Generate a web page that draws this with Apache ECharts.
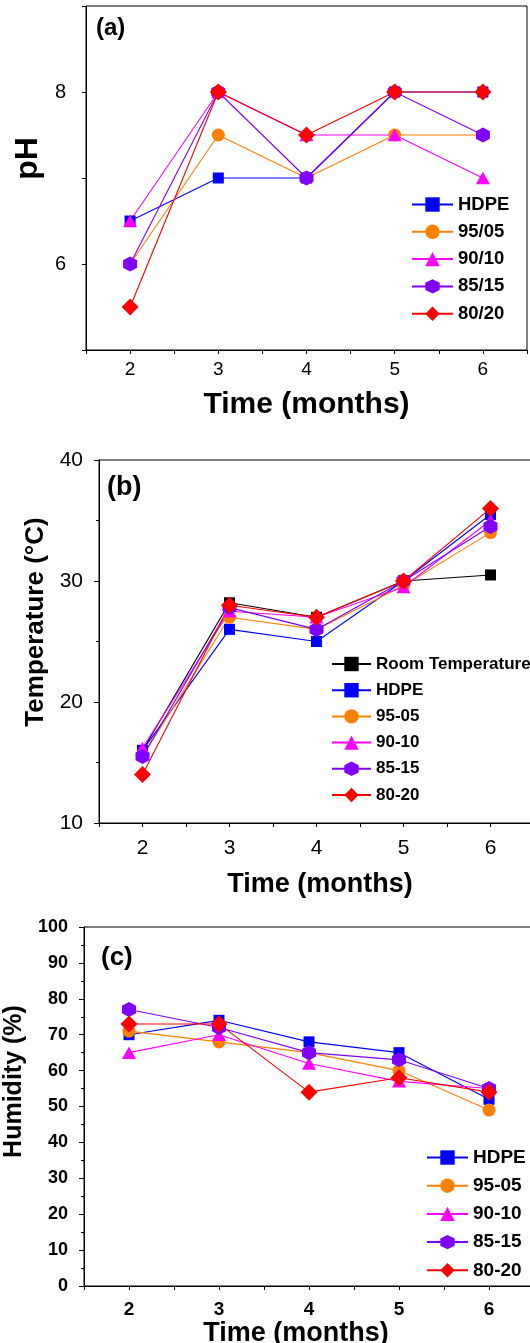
<!DOCTYPE html>
<html>
<head>
<meta charset="utf-8">
<script src="https://cdn.jsdelivr.net/npm/echarts@6/dist/echarts.min.js"></script>
<style>
html, body { margin: 0; padding: 0; background: #fff; }
#chart { width: 530px; height: 1343px; }
</style>
</head>
<body>
<div id="chart"></div>
<script>
// months on the x axis (all three panels)
var months = [2, 3, 4, 5, 6];

// (a) pH
var phHDPE = [6.5, 7, 7, 8, 8];
var ph9505 = [6, 7.5, 7, 7.5, 7.5];
var ph9010 = [6.5, 8, 7.5, 7.5, 7];
var ph8515 = [6, 8, 7, 8, 7.5];
var ph8020 = [5.5, 8, 7.5, 8, 8];

// (b) temperature
var tempRoom = [16, 28.2, 27, 30, 30.5];
var tempHDPE = [16, 26, 25, 30, 35.5];
var temp9505 = [15.5, 27, 26, 29.6, 34];
var temp9010 = [16.2, 27.5, 27, 29.5, 35];
var temp8515 = [15.5, 27.8, 26, 30, 34.5];
var temp8020 = [14, 28, 27, 30, 36];

// (c) humidity
var humHDPE = [70, 74, 68, 65, 52];
var hum9505 = [71, 68, 65, 60, 49];
var hum9010 = [65, 70, 62, 57, 55];
var hum8515 = [77, 72, 65, 63, 55];
var hum8020 = [73, 73, 54, 58, 54];

var namesA = ['HDPE', '95/05', '90/10', '85/15', '80/20'];
var namesBC = ['HDPE', '95-05', '90-10', '85-15', '80-20'];

var FONT = 'Liberation Sans, Arial, sans-serif';
var HEX = 'path://M0,-1L0.866,-0.5L0.866,0.5L0,1L-0.866,0.5L-0.866,-0.5Z';

// marker look per blend (same order as names)
var looks = [
    { color: '#0000ff', symbol: 'rect', size: 11 },
    { color: '#ff8000', symbol: 'circle', size: 13 },
    { color: '#ff00ff', symbol: 'triangle', size: [14, 12.5] },
    { color: '#8000ff', symbol: HEX, size: [14, 15] },
    { color: '#ff0000', symbol: 'diamond', size: 17 }
];
var roomLook = { color: '#000000', symbol: 'rect', size: 11 };

function makeLine(name, values, look, idx) {
    return {
        name: name,
        type: 'line',
        xAxisIndex: idx,
        yAxisIndex: idx,
        data: months.map(function(m, i) { return [m, values[i]]; }),
        symbol: look.symbol,
        symbolSize: look.size,
        itemStyle: { color: look.color },
        lineStyle: { color: look.color, width: 1.1 },
        emphasis: { disabled: true }
    };
}

function xAxisFor(idx, max, labelSize, bold, margin, nameSize, nameGap, namePad) {
    return {
        type: 'value',
        gridIndex: idx,
        min: 1.5,
        max: max,
        interval: 0.5,
        splitLine: { show: false },
        axisLine: { show: true, onZero: false, lineStyle: { color: '#000', width: 1 } },
        axisTick: { show: true, length: 4, lineStyle: { color: '#000' } },
        axisLabel: {
            margin: margin,
            fontFamily: FONT,
            fontSize: labelSize,
            fontWeight: bold ? 'bold' : 'normal',
            color: '#000',
            showMinLabel: true,
            showMaxLabel: true,
            formatter: function(v) { return v % 1 === 0 ? String(v) : ''; }
        },
        name: 'Time (months)',
        nameLocation: 'middle',
        nameGap: nameGap,
        nameTextStyle: {
            fontFamily: FONT, fontSize: nameSize, fontWeight: 'bold', color: '#000',
            padding: namePad
        }
    };
}

// legend rows: icon box 18px high, gap chosen so rows match the picture spacing
function legendFor(names, left, top, itemWidth, gap, fontSize) {
    return {
        orient: 'vertical',
        left: left,
        top: top,
        padding: 0,
        itemWidth: itemWidth,
        itemHeight: 18,
        itemGap: gap,
        selectedMode: false,
        data: names,
        textStyle: { fontFamily: FONT, fontSize: fontSize, fontWeight: 'bold', color: '#000', lineHeight: 18 }
    };
}

var series = [];
[phHDPE, ph9505, ph9010, ph8515, ph8020].forEach(function(v, i) {
    series.push(makeLine(namesA[i], v, looks[i], 0));
});
series.push(makeLine('Room Temperature', tempRoom, roomLook, 1));
[tempHDPE, temp9505, temp9010, temp8515, temp8020].forEach(function(v, i) {
    series.push(makeLine(namesBC[i], v, looks[i], 1));
});
[humHDPE, hum9505, hum9010, hum8515, hum8020].forEach(function(v, i) {
    series.push(makeLine(namesBC[i], v, looks[i], 2));
});

var chart = echarts.init(document.getElementById('chart'), null, { renderer: 'canvas' });

var option = {
    animation: false,
    backgroundColor: '#fff',
    grid: [
        { left: 86, top: 6, width: 441, height: 344, show: true, borderColor: '#000', borderWidth: 1, containLabel: false, outerBoundsMode: 'none' },
        { left: 99, top: 460, width: 435, height: 363, show: true, borderColor: '#000', borderWidth: 1, containLabel: false, outerBoundsMode: 'none' },
        { left: 84, top: 927, width: 450, height: 359, show: true, borderColor: '#000', borderWidth: 1, containLabel: false, outerBoundsMode: 'none' }
    ],
    xAxis: [
        xAxisFor(0, 6.5, 19, false, 10, 30, 40, [0, 0, 0, 0]),
        xAxisFor(1, 6.5, 21, false, 15, 27, 48, [0, 0, 0, 7]),
        xAxisFor(2, 6.5, 19, true, 14, 27, 29, [0, 26, 0, 0])
    ],
    yAxis: [
        {
            type: 'value', gridIndex: 0, min: 5, max: 9, interval: 1,
            splitLine: { show: false },
            axisLine: { show: true, onZero: false, lineStyle: { color: '#000', width: 1 } },
            axisTick: { show: true, length: 4, lineStyle: { color: '#000' } },
            axisLabel: {
                margin: 20, fontFamily: FONT, fontSize: 20, color: '#000',
                formatter: function(v) { return v % 2 === 0 ? String(v) : ''; }
            },
            name: 'pH', nameLocation: 'middle', nameGap: 38, nameRotate: 90,
            nameTextStyle: { fontFamily: FONT, fontSize: 32, fontWeight: 'bold', color: '#000', padding: [0, 0, 0, 39] }
        },
        {
            type: 'value', gridIndex: 1, min: 10, max: 40, interval: 10,
            splitLine: { show: false },
            axisLine: { show: true, onZero: false, lineStyle: { color: '#000', width: 1 } },
            axisTick: { show: true, length: 5, lineStyle: { color: '#000' } },
            minorTick: { show: true, splitNumber: 2, length: 3, lineStyle: { color: '#000' } },
            axisLabel: { margin: 16, fontFamily: FONT, fontSize: 21, color: '#000' },
            name: 'Temperature (°C)', nameLocation: 'middle', nameGap: 45, nameRotate: 90,
            nameTextStyle: { fontFamily: FONT, fontSize: 26, fontWeight: 'bold', color: '#000', padding: [0, 0, 0, 39] }
        },
        {
            type: 'value', gridIndex: 2, min: 0, max: 100, interval: 10,
            splitLine: { show: false },
            axisLine: { show: true, onZero: false, lineStyle: { color: '#000', width: 1 } },
            axisTick: { show: true, length: 5, lineStyle: { color: '#000' } },
            minorTick: { show: true, splitNumber: 2, length: 3, lineStyle: { color: '#000' } },
            axisLabel: { margin: 16, fontFamily: FONT, fontSize: 18, fontWeight: 'bold', color: '#000' },
            name: 'Humidity (%)', nameLocation: 'middle', nameGap: 48, nameRotate: 90,
            nameTextStyle: { fontFamily: FONT, fontSize: 25, fontWeight: 'bold', color: '#000', padding: [0, 0, 0, 50] }
        }
    ],
    legend: [
        legendFor(namesA, 411, 195, 41, 8.3, 18.5),
        legendFor(['Room Temperature'].concat(namesBC), 331, 655, 39, 8.2, 17),
        legendFor(namesBC, 426, 1148, 41, 9.2, 19)
    ],
    graphic: [
        { type: 'text', left: 96, top: 16, style: { text: '(a)', font: 'bold 24px ' + FONT, fill: '#000' } },
        { type: 'text', left: 107, top: 474, style: { text: '(b)', font: 'bold 27px ' + FONT, fill: '#000' } },
        { type: 'text', left: 101, top: 945, style: { text: '(c)', font: 'bold 26px ' + FONT, fill: '#000' } }
    ],
    series: series
};

chart.setOption(option);
</script>
</body>
</html>
